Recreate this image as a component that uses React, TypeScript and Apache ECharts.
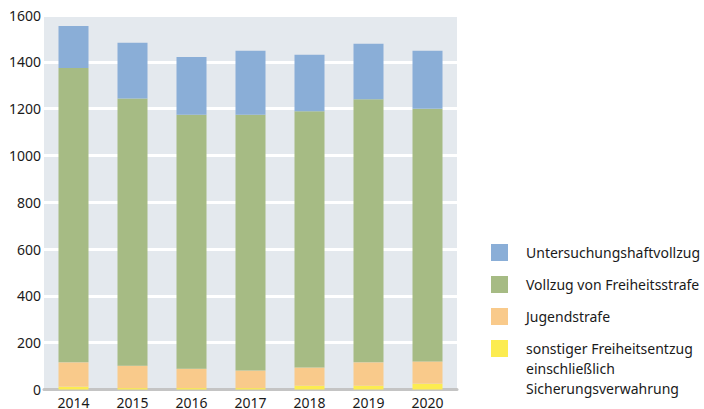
import React, { useEffect, useRef } from "react";
import * as echarts from "echarts";

const years = ["2014", "2015", "2016", "2017", "2018", "2019", "2020"];
const sonstiger = [12, 6, 6, 6, 16, 16, 25];
const jugendstrafe = [104, 96, 83, 75, 78, 100, 95];
const freiheitsstrafe = [1258, 1141, 1085, 1093, 1095, 1124, 1080];
const untersuchungshaft = [179, 238, 247, 273, 241, 237, 247];

const N_U = "Untersuchungshaftvollzug";
const N_F = "Vollzug von Freiheitsstrafe";
const N_J = "Jugendstrafe";
const N_S = "sonstiger Freiheitsentzug einschließlich Sicherungsverwahrung";
const S_LINES = ["sonstiger Freiheitsentzug", "einschließlich", "Sicherungsverwahrung"];

const FONT = "'Noto Sans', sans-serif";
const TEXT = "#1a1a1a";

export default function App() {
  const ref = useRef<HTMLDivElement>(null);
  useEffect(() => {
    if (!ref.current) return;
    const chart = echarts.init(ref.current, undefined, { renderer: "svg" });
    const mk = (name: string, data: number[], color: string) => ({
      name,
      type: "bar",
      stack: "total",
      data,
      barWidth: 30,
      itemStyle: { color },
      emphasis: { disabled: true },
    });
    chart.setOption({
      animation: false,
      textStyle: { fontFamily: FONT },
      grid: {
        left: 44,
        right: 247,
        top: 15,
        bottom: 18,
        show: true,
        backgroundColor: "#e4e9ee",
        borderWidth: 0,
      },
      xAxis: {
        type: "category",
        data: years,
        axisTick: { show: false },
        axisLine: { show: true, lineStyle: { color: "#c4c4c4", width: 3 } },
        axisLabel: { color: TEXT, fontSize: 14, lineHeight: 11, margin: 7, fontFamily: FONT },
      },
      yAxis: {
        type: "value",
        min: 0,
        max: 1600,
        interval: 200,
        axisLine: { show: false },
        axisTick: { show: false },
        axisLabel: {
          color: TEXT,
          fontSize: 14,
          margin: 3,
          fontFamily: FONT,
          formatter: (v: number) => String(v),
        },
        splitLine: { show: true, lineStyle: { color: "#ffffff", width: 3 } },
      },
      legend: {
        orient: "vertical",
        left: 491,
        top: 244,
        padding: 0,
        itemWidth: 17,
        itemHeight: 17,
        itemGap: 15,
        icon: "rect",
        selectedMode: false,
        textStyle: { color: TEXT, fontSize: 14, fontFamily: FONT, padding: [0, 0, 0, 13] },
        formatter: (name: string) =>
          name === N_S ? S_LINES.map((l) => `{r|${l}}`).join("\n") : name,
        data: [
          { name: N_U },
          { name: N_F },
          { name: N_J },
          {
            name: N_S,
            textStyle: {
              padding: [40, 0, 0, 13],
              rich: { r: { fontSize: 14, lineHeight: 20, color: TEXT, fontFamily: FONT } },
            },
          },
        ],
      },
      series: [
        mk(N_S, sonstiger, "#fcec50"),
        mk(N_J, jugendstrafe, "#f9ca8b"),
        mk(N_F, freiheitsstrafe, "#a6bb84"),
        mk(N_U, untersuchungshaft, "#8aaed7"),
      ],
    });
    return () => chart.dispose();
  }, []);
  return <div ref={ref} style={{ width: 704, height: 409, position: "absolute", left: 0, top: 0 }} />;
}
